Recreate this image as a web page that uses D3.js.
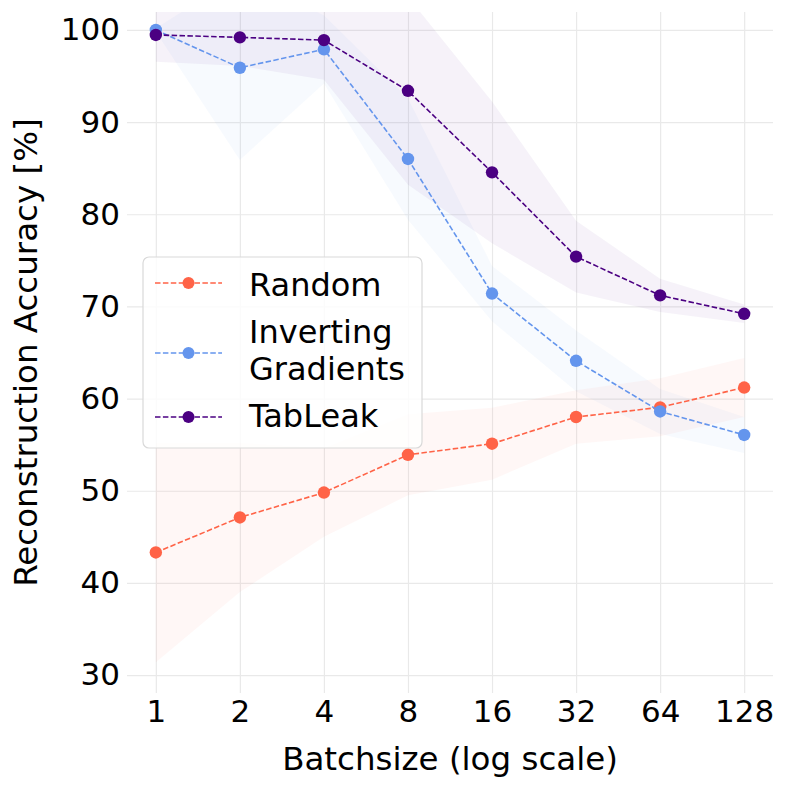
<!DOCTYPE html>
<html>
<head>
<meta charset="utf-8">
<script src="https://cdn.jsdelivr.net/npm/d3@7"></script>
<style>
  body { margin: 0; background: #fff; }
  text { font-family: "DejaVu Sans", sans-serif; fill: #000; }
</style>
</head>
<body>
<svg id="chart" width="789" height="789"></svg>
<script>
// batch sizes on the x axis
const batchSizes = [1, 2, 4, 8, 16, 32, 64, 128];
const yTicks = [30, 40, 50, 60, 70, 80, 90, 100];

// mean accuracy and spread per method
const randomMean = [43.3, 47.1, 49.8, 53.9, 55.1, 58.0, 59.05, 61.2];
const randomStd = [11.9, 8.1, 4.8, 4.4, 3.9, 2.9, 3.15, 3.2];
const invertMean = [100.0, 95.9, 97.9, 86.0, 71.4, 64.1, 58.6, 56.05];
const invertStd = [0.2, 10.0, 3.7, 6.6, 3.0, 3.3, 2.45, 1.95];
const tableakMean = [99.46, 99.2, 98.9, 93.4, 84.55, 75.4, 71.2, 69.2];
const tableakStd = [2.9, 3.1, 4.3, 10.2, 7.7, 3.9, 1.8, 1.0];

const seriesNames = ["Random", "Inverting\nGradients", "TabLeak"];
const seriesColors = ["#ff6347", "#6495ed", "#4b0082"];

const series = [
  { name: seriesNames[0], color: seriesColors[0], mean: randomMean, std: randomStd },
  { name: seriesNames[1], color: seriesColors[1], mean: invertMean, std: invertStd },
  { name: seriesNames[2], color: seriesColors[2], mean: tableakMean, std: tableakStd },
];

const plotL = 127, plotR = 773, plotT = 12, plotB = 693;
const svg = d3.select("#chart");

const x = d3.scaleLog().base(2)
  .domain([Math.pow(2, -0.343), Math.pow(2, 7.343)])
  .range([plotL, plotR]);
const y = d3.scaleLinear().domain([28.05, 101.95]).range([plotB, plotT]);

svg.append("clipPath").attr("id", "plot-clip")
  .append("rect")
  .attr("x", plotL).attr("y", plotT)
  .attr("width", plotR - plotL).attr("height", plotB - plotT);

// grid
svg.append("g")
  .attr("transform", `translate(0,${plotB})`)
  .call(d3.axisBottom(x).tickValues(batchSizes).tickSize(-(plotB - plotT)).tickFormat(""))
  .call((g) => g.select(".domain").remove())
  .call((g) => g.selectAll("line").attr("stroke", "#e9e9e9").attr("stroke-width", 1.2));
svg.append("g")
  .attr("transform", `translate(${plotL},0)`)
  .call(d3.axisLeft(y).tickValues(yTicks).tickSize(-(plotR - plotL)).tickFormat(""))
  .call((g) => g.select(".domain").remove())
  .call((g) => g.selectAll("line").attr("stroke", "#e9e9e9").attr("stroke-width", 1.2));

// tick labels
svg.append("g")
  .attr("transform", `translate(0,${plotB})`)
  .call(d3.axisBottom(x).tickValues(batchSizes).tickSize(0).tickPadding(7).tickFormat(d3.format("d")))
  .call((g) => g.select(".domain").remove())
  .selectAll("text").style("font-size", "31px").attr("fill", "#000");
svg.append("g")
  .attr("transform", `translate(${plotL},0)`)
  .call(d3.axisLeft(y).tickValues(yTicks).tickSize(0).tickPadding(7))
  .call((g) => g.select(".domain").remove())
  .selectAll("text").style("font-size", "31px").attr("fill", "#000");

// axis titles
svg.append("text")
  .attr("x", (plotL + plotR) / 2).attr("y", 770)
  .attr("text-anchor", "middle").style("font-size", "32.5px")
  .text("Batchsize (log scale)");
svg.append("text")
  .attr("transform", `translate(36.5,${(plotT + plotB) / 2}) rotate(-90)`)
  .attr("text-anchor", "middle").style("font-size", "32.5px")
  .text("Reconstruction Accuracy [%]");

const plot = svg.append("g").attr("clip-path", "url(#plot-clip)");
const area = d3.area()
  .x((d) => x(d.b))
  .y0((d) => y(d.m - d.s))
  .y1((d) => y(d.m + d.s));
const line = d3.line().x((d) => x(d.b)).y((d) => y(d.m));

series.forEach((s) => {
  const pts = batchSizes.map((b, i) => ({ b, m: s.mean[i], s: s.std[i] }));
  plot.append("path").datum(pts)
    .attr("d", area)
    .attr("fill", s.color).attr("fill-opacity", 0.05);
});

series.forEach((s) => {
  const pts = batchSizes.map((b, i) => ({ b, m: s.mean[i], s: s.std[i] }));
  svg.append("path").datum(pts)
    .attr("d", line)
    .attr("fill", "none").attr("stroke", s.color)
    .attr("stroke-width", 1.6).attr("stroke-dasharray", "5.5,2.4");
  svg.selectAll(null).data(pts).enter().append("circle")
    .attr("cx", (d) => x(d.b)).attr("cy", (d) => y(d.m))
    .attr("r", 6.2).attr("fill", s.color);
});

// legend
const legend = svg.append("g");
legend.append("rect")
  .attr("x", 143).attr("y", 257).attr("width", 279).attr("height", 191)
  .attr("rx", 6).attr("fill", "#fff").attr("fill-opacity", 0.8)
  .attr("stroke", "#d9d9d9").attr("stroke-width", 1.2);
const legendRows = [283, 353, 417];
const legendBaselines = [[295.7], [343, 380], [426.7]];
series.forEach((s, i) => {
  const g = legend.append("g");
  g.append("line")
    .attr("x1", 155).attr("x2", 222).attr("y1", legendRows[i]).attr("y2", legendRows[i])
    .attr("stroke", s.color).attr("stroke-width", 1.6).attr("stroke-dasharray", "5.5,2.4");
  g.append("circle").attr("cx", 188.5).attr("cy", legendRows[i]).attr("r", 6).attr("fill", s.color);
  s.name.split("\n").forEach((t, j) => {
    g.append("text")
      .attr("x", 249).attr("y", legendBaselines[i][j])
      .style("font-size", "32px")
      .text(t);
  });
});
</script>
</body>
</html>
